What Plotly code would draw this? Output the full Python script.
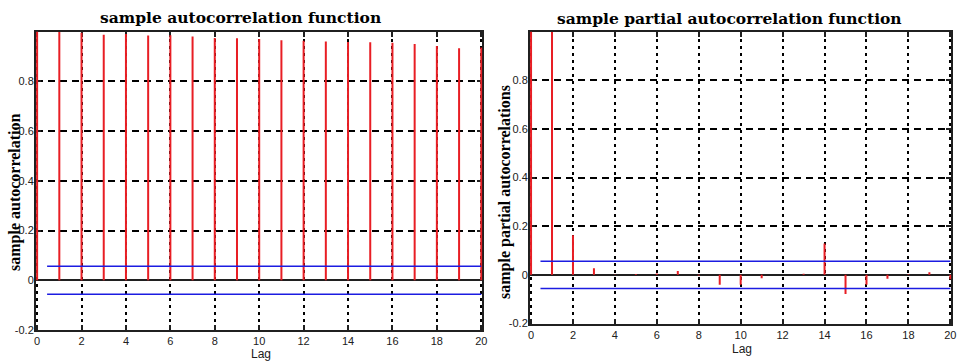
import plotly.graph_objects as go

# Lags 0..20 and the sample correlation values at each lag
lags = list(range(21))
acf_values = [1.000, 0.998, 0.995, 0.987, 0.990, 0.984, 0.985, 0.980, 0.974, 0.973,
              0.970, 0.965, 0.963, 0.960, 0.958, 0.957, 0.955, 0.950, 0.942, 0.933, 0.936]
pacf_values = [1.000, 0.998, 0.163, 0.027, 0.001, 0.003, 0.005, 0.016, -0.003, -0.041,
               -0.041, -0.014, 0.000, 0.004, 0.129, -0.079, -0.041, -0.016, 0.002, 0.011, -0.018]
conf_bound = 0.056
bound_start = 0.45

x_tick_vals = list(range(0, 21, 2))
x_tick_text = [str(v) for v in x_tick_vals]
y_tick_vals = [-0.2, 0, 0.2, 0.4, 0.6, 0.8]
y_tick_text = ["-0.2", "0", "0.2", "0.4", "0.6", "0.8"]

W, H = 963, 361
RED = "rgb(232,30,36)"
BLUE = "rgb(28,28,225)"
INK = "#202020"


def stem_xy(values):
    xs, ys = [], []
    for k, v in zip(lags, values):
        xs += [k, k, None]
        ys += [0, v, None]
    return xs, ys


fig = go.Figure()

for idx, vals in ((1, acf_values), (2, pacf_values)):
    xa = "x" if idx == 1 else "x2"
    ya = "y" if idx == 1 else "y2"
    sx, sy = stem_xy(vals)
    fig.add_trace(go.Scatter(x=sx, y=sy, mode="lines", xaxis=xa, yaxis=ya,
                             line=dict(color=RED, width=2), showlegend=False,
                             hoverinfo="skip"))
    for b in (conf_bound, -conf_bound):
        fig.add_trace(go.Scatter(x=[bound_start, lags[-1]], y=[b, b], mode="lines",
                                 xaxis=xa, yaxis=ya, line=dict(color=BLUE, width=1.6),
                                 showlegend=False, hoverinfo="skip"))

# a hair of padding so the end stems at lag 0 and lag 20 stay inside the frame
x_common = dict(range=[-0.05, 20.05], tickvals=x_tick_vals, ticktext=x_tick_text,
                ticks="inside", ticklen=5, tickwidth=1.5, tickcolor=INK,
                showline=True, linecolor=INK, linewidth=2, mirror="ticks",
                showgrid=True, gridcolor="black", gridwidth=1.5, griddash="3px,4px",
                zeroline=False, layer="below traces",
                tickfont=dict(family="Liberation Sans", size=11, color=INK),
                automargin=False)
y_common = dict(range=[-0.2, 1.0], tickvals=y_tick_vals, ticktext=y_tick_text,
                ticks="inside", ticklen=5, tickwidth=1.5, tickcolor=INK,
                showline=True, linecolor=INK, linewidth=2, mirror="ticks",
                showgrid=True, gridcolor="black", gridwidth=1.5, griddash="7px,5px",
                zeroline=True, zerolinecolor=INK, zerolinewidth=2, layer="below traces",
                tickfont=dict(family="Liberation Sans", size=11, color=INK),
                ticklabelstandoff=-2, automargin=False)

fig.update_layout(
    width=W, height=H,
    margin=dict(l=0, r=0, t=0, b=0),
    paper_bgcolor="white", plot_bgcolor="rgba(0,0,0,0)",
    xaxis=dict(domain=[36 / W, 482.4 / W], anchor="y", **x_common),
    yaxis=dict(domain=[1 - 330 / H, 1 - 31.5 / H], anchor="x", **y_common),
    xaxis2=dict(domain=[530 / W, 951.4 / W], anchor="y2", **x_common),
    yaxis2=dict(domain=[1 - 323.5 / H, 1 - 31.5 / H], anchor="x2", **y_common),
)

title_font = dict(family="DejaVu Serif", size=15.5, color="black")
label_font = dict(family="Liberation Serif", size=16, color="black")
lag_font = dict(family="Liberation Sans", size=12, color=INK)

annotations = [
    dict(text="<b>sample autocorrelation function</b>", x=240 / W, y=1 - 18 / H,
         font=title_font),
    dict(text="<b>sample partial autocorrelation function</b>", x=729 / W, y=1 - 19 / H,
         font=title_font),
    dict(text="<b>sample autocorrelation</b>", x=15 / W, y=1 - 192 / H,
         textangle=-90, font=label_font),
    dict(text="<b>sample partial autocorrelations</b>", x=505 / W, y=1 - 192 / H,
         textangle=-90, font=label_font),
    dict(text="Lag", x=261 / W, y=1 - 354 / H, font=lag_font),
    dict(text="Lag", x=742 / W, y=1 - 349 / H, font=lag_font),
]
for a in annotations:
    a.update(xref="paper", yref="paper", xanchor="center", yanchor="middle",
             showarrow=False)
fig.update_layout(annotations=annotations)

fig.write_html("out.html")
